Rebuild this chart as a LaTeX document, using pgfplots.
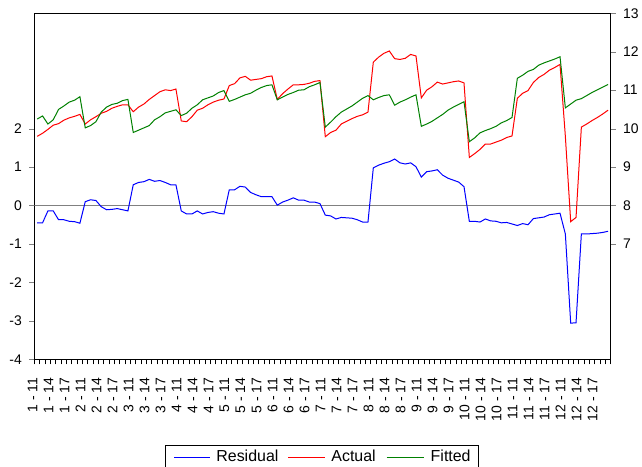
\documentclass[border=0pt]{standalone}
\usepackage{fontspec}
\setmainfont{Liberation Sans}
\usepackage{pgfplots}
\usepackage{pgfplotstable}
\pgfplotsset{compat=1.18}
\definecolor{evgreen}{RGB}{0,128,0}
\definecolor{evblue}{RGB}{0,0,255}
\definecolor{evred}{RGB}{255,0,0}

\pgfplotstableread{
i res act fit
0 -0.45 9.80 10.25
1 -0.45 9.88 10.33
2 -0.14 9.98 10.12
3 -0.14 10.09 10.23
4 -0.37 10.13 10.50
5 -0.37 10.22 10.59
6 -0.41 10.28 10.69
7 -0.42 10.32 10.74
8 -0.46 10.37 10.83
9 0.10 10.12 10.02
10 0.15 10.23 10.08
11 0.13 10.31 10.18
12 -0.03 10.40 10.43
13 -0.11 10.45 10.56
14 -0.10 10.53 10.63
15 -0.08 10.58 10.66
16 -0.11 10.62 10.73
17 -0.14 10.62 10.76
18 0.54 10.44 9.90
19 0.60 10.56 9.96
20 0.62 10.64 10.02
21 0.68 10.76 10.08
22 0.63 10.86 10.23
23 0.65 10.96 10.31
24 0.60 11.01 10.41
25 0.54 10.99 10.45
26 0.54 11.03 10.49
27 -0.14 10.20 10.34
28 -0.22 10.18 10.40
29 -0.22 10.31 10.53
30 -0.14 10.48 10.62
31 -0.22 10.53 10.75
32 -0.18 10.62 10.80
33 -0.16 10.69 10.85
34 -0.20 10.74 10.94
35 -0.22 10.77 10.99
36 0.41 11.12 10.71
37 0.41 11.17 10.76
38 0.50 11.32 10.82
39 0.48 11.36 10.88
40 0.34 11.26 10.92
41 0.28 11.28 11.00
42 0.23 11.30 11.07
43 0.23 11.35 11.12
44 0.23 11.37 11.14
45 0.01 10.76 10.75
46 0.09 10.91 10.82
47 0.14 11.03 10.89
48 0.20 11.14 10.94
49 0.14 11.14 11.00
50 0.14 11.15 11.01
51 0.09 11.18 11.09
52 0.09 11.23 11.14
53 0.05 11.25 11.20
54 -0.25 9.79 10.04
55 -0.27 9.90 10.17
56 -0.35 9.96 10.31
57 -0.31 10.12 10.43
58 -0.32 10.19 10.51
59 -0.33 10.26 10.59
60 -0.37 10.32 10.69
61 -0.43 10.36 10.79
62 -0.43 10.43 10.86
63 0.98 11.73 10.75
64 1.05 11.86 10.81
65 1.10 11.96 10.86
66 1.14 12.02 10.88
67 1.21 11.82 10.61
68 1.11 11.80 10.69
69 1.08 11.83 10.75
70 1.11 11.93 10.82
71 1.01 11.89 10.88
72 0.74 10.80 10.06
73 0.88 11.00 10.12
74 0.90 11.09 10.19
75 0.93 11.21 10.28
76 0.79 11.16 10.37
77 0.71 11.19 10.48
78 0.66 11.22 10.56
79 0.61 11.24 10.63
80 0.49 11.19 10.70
81 -0.41 9.25 9.66
82 -0.41 9.35 9.76
83 -0.43 9.46 9.89
84 -0.35 9.60 9.95
85 -0.40 9.60 10.00
86 -0.41 9.65 10.06
87 -0.45 9.70 10.15
88 -0.44 9.77 10.21
89 -0.48 9.81 10.29
90 -0.52 10.79 11.31
91 -0.47 10.92 11.39
92 -0.50 10.99 11.49
93 -0.34 11.20 11.54
94 -0.32 11.33 11.65
95 -0.30 11.41 11.71
96 -0.24 11.52 11.76
97 -0.22 11.59 11.81
98 -0.20 11.67 11.87
99 -0.74 9.80 10.54
100 -3.06 7.58 10.64
101 -3.05 7.69 10.74
102 -0.74 10.04 10.78
103 -0.74 10.12 10.86
104 -0.73 10.21 10.94
105 -0.72 10.29 11.01
106 -0.70 10.38 11.08
107 -0.67 10.48 11.15
}\datatable

\begin{document}
\begin{tikzpicture}
\useasboundingbox (-34.3bp,-107.7bp) rectangle (607.7bp,359.3bp);
\pgfplotsset{
  common/.style={
    width=576.4bp, height=346bp, scale only axis,
    xmin=-0.55, xmax=107.5,
    tick align=outside,
    major tick length=5bp,
    /pgf/number format/assume math mode=true,
    tick label style={font=\fontsize{14}{16}\selectfont},
    axis line style={line width=1bp},
  }
}
\begin{axis}[common,
  ymin=-4, ymax=5, ytick={-4,...,2},
  ytick pos=left, xtick pos=left,
  xtick={-0.5,0.5,...,107.5},
  xtick style={draw=black, line width=0.9bp},
  xticklabels={1 - 11,,,1 - 14,,,1 - 17,,,2 - 11,,,2 - 14,,,2 - 17,,,3 - 11,,,3 - 14,,,3 - 17,,,4 - 11,,,4 - 14,,,4 - 17,,,5 - 11,,,5 - 14,,,5 - 17,,,6 - 11,,,6 - 14,,,6 - 17,,,7 - 11,,,7 - 14,,,7 - 17,,,8 - 11,,,8 - 14,,,8 - 17,,,9 - 11,,,9 - 14,,,9 - 17,,,10 - 11,,,10 - 14,,,10 - 17,,,11 - 11,,,11 - 14,,,11 - 17,,,12 - 11,,,12 - 14,,,12 - 17,,,},
  xticklabel style={xshift=-2.1bp, yshift=-10bp, rotate=90, anchor=east},
  yticklabel style={xshift=-4bp},
]
\draw[gray, line width=1.6bp] (axis cs:-0.55,0) -- (axis cs:107.5,0);
\addplot[evblue, line width=1bp] table[x=i, y=res] {\datatable};
\end{axis}
\begin{axis}[common,
  ymin=4, ymax=13, ytick={7,...,13},
  axis x line=none, axis y line*=right,
  yticklabel style={xshift=4bp},
]
\addplot[evred, line width=1bp] table[x=i, y=act] {\datatable};
\addplot[evgreen, line width=1bp] table[x=i, y=fit] {\datatable};
\end{axis}
\node[draw=black, line width=0.8bp, inner sep=0pt, minimum height=21.5bp, anchor=north,
  font=\fontsize{16}{18}\selectfont] at (287.7bp,-85.7bp) {\kern9bp\textcolor{evblue}{\rule[0.22em]{36bp}{1.3bp}}\kern6bp Residual\kern10bp\textcolor{evred}{\rule[0.22em]{37bp}{1.3bp}}\kern6bp Actual\kern11bp\textcolor{evgreen}{\rule[0.22em]{37bp}{1.3bp}}\kern7bp Fitted\kern8bp\relax};
\end{tikzpicture}
\end{document}
